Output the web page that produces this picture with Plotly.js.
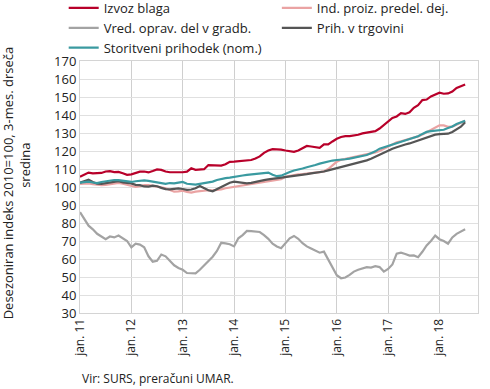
<!DOCTYPE html>
<html><head><meta charset="utf-8">
<script src="https://cdn.plot.ly/plotly-3.0.1.min.js"></script>
<style>html,body{margin:0;padding:0;background:#fff}#chart{width:490px;height:389px}</style>
</head><body><div id="chart"></div>
<script>
// months since Jan 2011 (0 = jan. 11 ... 90 = jul. 18)
const months = Array.from({length: 91}, (_, i) => i);
const tickVals = [0, 12, 24, 36, 48, 60, 72, 84];
const tickLabels = ["jan. 11", "jan. 12", "jan. 13", "jan. 14", "jan. 15", "jan. 16", "jan. 17", "jan. 18"];

const izvozBlaga = [105.7,107,108,107.6,107.5,107.8,108.6,108.8,108.3,108.4,107.6,106.8,107,107.8,108.5,108.6,108.1,108.9,109.8,109.5,108.6,108.2,108.1,108.1,108.2,108.5,110.4,109.5,109.8,109.9,112.2,112.2,112,111.9,112.6,114,114.1,114.3,114.6,114.7,115,115.8,117,119,120.3,121,121.1,120.8,120.3,119.9,119.5,120.3,121.5,122.8,122.5,122.1,121.8,123.7,123.7,125.3,126.8,127.8,128.3,128.3,128.6,129,129.8,130.2,130.6,131,132.5,134.4,136.5,138.4,139.2,141,140.6,141.5,144,145.5,148.3,148.6,150.3,151.3,152.4,151.8,152,153,155,156,157];
const indProiz = [101.7,101.9,102,101.6,101.3,101,101.2,101.6,102,102.3,101.8,101.2,100.5,100,100.4,101,101,100.7,100.3,99.8,99.3,98.3,97.4,97.6,98,97.3,96.9,97.4,97.8,98,98.2,98.1,98.2,98.7,99.3,99.7,100.2,100.4,100.8,101.5,102,102.3,102.6,103,103.4,103.6,104,104.4,105.7,106.2,106.7,107,107.2,107.4,107.6,107.9,108.3,108.7,110,112,114,115.1,115.6,116,116.4,116.8,117.3,117.9,118.5,119.2,120,121.2,122.4,123.8,124.8,125.4,126,126.5,127.3,128.1,129.2,130.4,131.8,133.2,134.3,134.2,133.4,133.5,134.5,135.8,136.8];
const vredGradb = [86,82,78.5,76.5,74,72.5,71,72.5,72,73,71.5,70,66.5,68.5,68,66.5,61.5,58.5,59,62.5,61.5,59,56.5,55,54,52.2,52.2,52,54,56.5,58.9,61.3,64.5,69,68.7,68.2,67,71.5,73.3,75.6,75.5,75.2,75,73.3,71.2,68.5,67,66,69,71.5,72.8,71.2,68.8,67,65.8,64.7,63.5,64.1,60,55.5,51,49.3,49.7,51.2,53,54,54.8,55.5,55.2,56,55.5,53,54.5,57,63,63.5,62.8,61.9,62,61,64,67.5,70,73,71,70,68.5,72,74,75.3,76.5];
const prihTrgovini = [102.4,103.3,104,102.8,101.8,101.7,102,102.4,103,103.2,102.6,102.4,102,101.2,101,100.3,100.2,100.8,100.4,99.5,98.8,98.7,99,99.2,98.9,98.4,98.6,99.3,100.6,99.4,98.2,97.6,98.8,100.3,101.3,102.4,103,102.6,102.2,102,102.3,102.9,103.4,103.8,104.2,104.5,104.7,105,105.3,105.8,106.2,106.5,106.7,107.2,107.6,107.8,108,108.6,109.2,109.8,110.6,111.2,111.7,112.2,112.8,113.4,114.2,114.8,115.7,116.8,118.1,119.3,120.4,121.3,122.1,123,123.6,124.2,125,125.8,126.6,127.5,128.5,129.1,129.4,129.3,129.6,130.6,132,133.5,136];
const storitveni = [102.4,102.8,103,102.5,102.2,102.8,103.2,103.5,103.9,103.8,103.4,103,102.8,103.2,103.5,103.7,103.4,103,102.6,101.8,101.7,102.2,102,102.4,102.8,101.8,101.5,101.3,101.7,102,102.6,103,103.9,104.6,104.9,105.2,105.7,106,106.4,106.7,107,107.2,107.5,107.8,108,106.8,106,106.3,107.5,108.3,109.2,109.6,110.3,111,111.5,112.2,113,113.6,114.3,114.7,115,115.1,115.4,115.8,116.3,116.8,117.3,117.8,118.8,119.8,121.3,122.1,122.8,123.3,124.3,125.3,126,126.9,127.5,128.2,129.5,130.6,131,131.3,131.5,131.8,132.8,133.6,135,136,136.8];

const seriesNames = ["Izvoz blaga", "Ind. proiz. predel. dej.", "Vred. oprav. del v gradb.", "Prih. v trgovini", "Storitveni prihodek (nom.)"];
const seriesData = [izvozBlaga, indProiz, vredGradb, prihTrgovini, storitveni];
const colors = ["#b8002a", "#eaa3a3", "#a3a3a3", "#555555", "#3a9aa0"];
const legendColumn = ["legend", "legend2", "legend", "legend2", "legend"];
const yTitleLines = ["Desezoniran indeks 2010=100, 3-mes. drseča", "sredina"];
const sourceText = "Vir: SURS, preračuni UMAR.";

const traces = seriesData.map((d, i) => ({
  x: months, y: d, name: seriesNames[i], type: "scatter", mode: "lines",
  legend: legendColumn[i],
  line: {color: colors[i], width: 2.2}
}));

const fontFam = "Open Sans, sans-serif";
const legendBase = {
  orientation: "v", xref: "container", yref: "paper",
  y: 1.27, xanchor: "left", yanchor: "top",
  font: {family: fontFam, size: 13, color: "#222"},
  tracegroupgap: 0, itemwidth: 30, bgcolor: "rgba(0,0,0,0)", borderwidth: 0
};
const layout = {
  width: 490, height: 389,
  margin: {l: 80, r: 12, t: 61, b: 76, autoexpand: false},
  paper_bgcolor: "#fff", plot_bgcolor: "#fff",
  font: {family: fontFam, size: 12, color: "#222"},
  showlegend: true,
  legend: Object.assign({}, legendBase, {x: 0.13}),
  legend2: Object.assign({}, legendBase, {x: 0.565}),
  xaxis: {
    range: [0, 93], tickmode: "array", tickvals: tickVals, ticktext: tickLabels,
    tickangle: -90, showgrid: true, gridcolor: "#cfcfcf", gridwidth: 1,
    showline: true, linecolor: "#d4d4d4", mirror: true, zeroline: false,
    ticks: "", tickfont: {size: 12}
  },
  yaxis: {
    range: [30, 170], dtick: 10, tick0: 30, showgrid: true, gridcolor: "#e0e0e0",
    showline: true, linecolor: "#d4d4d4", mirror: true, zeroline: false,
    ticks: "", tickfont: {size: 13}
  },
  annotations: [
    {text: yTitleLines[0], xref: "paper", yref: "paper", x: -0.18, y: 0.516,
     xanchor: "center", yanchor: "middle", textangle: -90, showarrow: false,
     font: {size: 13, family: fontFam, color: "#222"}},
    {text: yTitleLines[1], xref: "paper", yref: "paper", x: -0.14, y: 0.585,
     xanchor: "center", yanchor: "middle", textangle: -90, showarrow: false,
     font: {size: 13, family: fontFam, color: "#222"}},
    {text: sourceText, xref: "paper", yref: "paper",
     x: 0, y: -0.258, xanchor: "left", yanchor: "middle", showarrow: false,
     font: {size: 12, family: fontFam, color: "#222"}}
  ]
};
Plotly.newPlot("chart", traces, layout, {displayModeBar: false, staticPlot: true});
</script></body></html>
